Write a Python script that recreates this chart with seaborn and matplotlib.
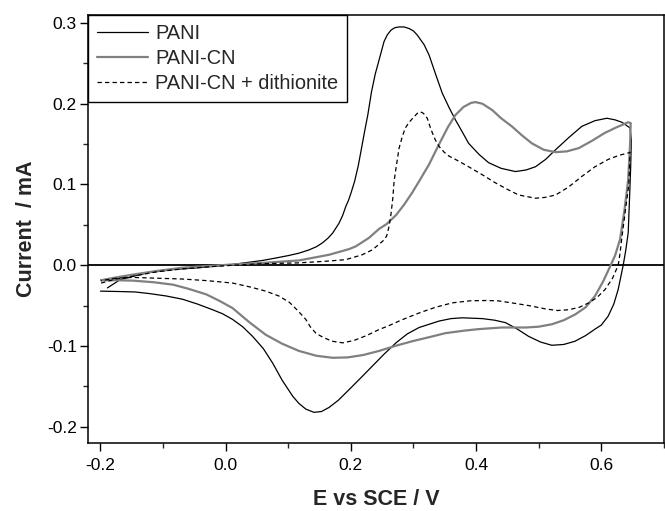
import matplotlib
matplotlib.use("Agg")
import matplotlib.pyplot as plt
from matplotlib.ticker import MultipleLocator, FormatStrFormatter
import seaborn as sns
import pandas as pd

# Cyclic voltammograms: potential (V vs SCE) and current (mA), forward then reverse sweep
pani_E = [-0.189, -0.169, -0.145, -0.122, -0.080, -0.042, 0.000, 0.030, 0.059, 0.080,
          0.100, 0.117, 0.133, 0.145, 0.155, 0.164, 0.171, 0.181, 0.187, 0.192,
          0.196, 0.200, 0.206, 0.212, 0.217, 0.222, 0.227, 0.233, 0.239, 0.245,
          0.253, 0.258, 0.264, 0.270, 0.277, 0.285, 0.293, 0.300, 0.306, 0.317,
          0.325, 0.336, 0.346, 0.357, 0.367, 0.378, 0.388, 0.405, 0.420, 0.440,
          0.463, 0.480, 0.495, 0.511, 0.527, 0.548, 0.569, 0.590, 0.609, 0.622,
          0.633, 0.646,
          0.648, 0.647, 0.645, 0.643, 0.639, 0.635, 0.627, 0.620, 0.611, 0.600,
          0.590, 0.575, 0.558, 0.540, 0.521, 0.503, 0.484, 0.466, 0.447, 0.430,
          0.410, 0.378, 0.360, 0.341, 0.325, 0.309, 0.290, 0.272, 0.253, 0.234,
          0.215, 0.197, 0.180, 0.165, 0.153, 0.141, 0.128, 0.117, 0.107, 0.090,
          0.075, 0.060, 0.043, 0.027, 0.011, -0.005, -0.021, -0.045, -0.069, -0.095,
          -0.122, -0.145, -0.169, -0.200]
pani_I = [-0.028, -0.018, -0.013, -0.009, -0.005, -0.003, 0.000, 0.003, 0.006, 0.009,
          0.012, 0.015, 0.019, 0.023, 0.028, 0.034, 0.040, 0.052, 0.062, 0.073,
          0.080, 0.089, 0.104, 0.124, 0.145, 0.166, 0.186, 0.215, 0.237, 0.254,
          0.277, 0.285, 0.291, 0.294, 0.295, 0.295, 0.293, 0.290, 0.285, 0.273,
          0.260, 0.235, 0.213, 0.195, 0.180, 0.165, 0.151, 0.137, 0.127, 0.120,
          0.116, 0.118, 0.122, 0.131, 0.143, 0.158, 0.172, 0.179, 0.182, 0.180,
          0.177, 0.170,
          0.155, 0.122, 0.080, 0.040, 0.018, 0.000, -0.030, -0.048, -0.063, -0.074,
          -0.079, -0.087, -0.094, -0.098, -0.099, -0.095, -0.088, -0.079, -0.071, -0.068,
          -0.066, -0.065, -0.066, -0.069, -0.073, -0.077, -0.085, -0.096, -0.110, -0.125,
          -0.140, -0.154, -0.167, -0.176, -0.181, -0.182, -0.178, -0.171, -0.162, -0.142,
          -0.121, -0.103, -0.088, -0.076, -0.067, -0.060, -0.055, -0.048, -0.042, -0.038,
          -0.035, -0.033, -0.0325, -0.032]

cn_E = [-0.199, -0.175, -0.148, -0.110, -0.069, -0.030, 0.011, 0.060, 0.117, 0.165,
        0.197, 0.208, 0.229, 0.245, 0.257, 0.272, 0.285, 0.298, 0.309, 0.325,
        0.341, 0.355, 0.367, 0.380, 0.392, 0.399, 0.410, 0.426, 0.440, 0.457,
        0.473, 0.489, 0.508, 0.527, 0.545, 0.564, 0.585, 0.606, 0.625, 0.643,
        0.647,
        0.646, 0.643, 0.637, 0.630, 0.622, 0.615, 0.603, 0.590, 0.575, 0.558,
        0.540, 0.521, 0.500, 0.479, 0.460, 0.441, 0.404, 0.380, 0.351, 0.325,
        0.298, 0.270, 0.245, 0.220, 0.195, 0.171, 0.145, 0.117, 0.090, 0.064,
        0.037, 0.011, -0.010, -0.031, -0.060, -0.084, -0.115, -0.148, -0.175, -0.199]
cn_I = [-0.0185, -0.015, -0.0115, -0.007, -0.003, -0.001, 0.001, 0.003, 0.006, 0.013,
        0.020, 0.0235, 0.034, 0.045, 0.051, 0.062, 0.075, 0.090, 0.104, 0.125,
        0.150, 0.171, 0.186, 0.196, 0.201, 0.202, 0.200, 0.192, 0.182, 0.172,
        0.161, 0.151, 0.143, 0.140, 0.141, 0.145, 0.154, 0.164, 0.171, 0.177,
        0.176,
        0.150, 0.106, 0.068, 0.032, 0.012, 0.000, -0.020, -0.038, -0.052, -0.061,
        -0.068, -0.073, -0.076, -0.077, -0.077, -0.077, -0.079, -0.081, -0.084, -0.089,
        -0.094, -0.100, -0.106, -0.111, -0.114, -0.1145, -0.112, -0.106, -0.097, -0.086,
        -0.070, -0.053, -0.044, -0.036, -0.029, -0.024, -0.021, -0.019, -0.0185, -0.0185]

dith_E = [-0.199, -0.175, -0.148, -0.110, -0.069, -0.030, 0.011, 0.060, 0.117, 0.160,
          0.192, 0.218, 0.234, 0.245, 0.251, 0.257, 0.261, 0.264, 0.267,
          0.269, 0.273, 0.277, 0.282, 0.287, 0.293, 0.300, 0.306, 0.311, 0.316,
          0.322, 0.328, 0.335, 0.341, 0.349, 0.357, 0.372, 0.388, 0.410, 0.431,
          0.450, 0.468, 0.495, 0.510, 0.527, 0.548, 0.569, 0.590, 0.611, 0.628,
          0.643, 0.646,
          0.644, 0.638, 0.633, 0.630, 0.627, 0.618, 0.606, 0.593, 0.580, 0.565,
          0.548, 0.530, 0.511, 0.485, 0.457, 0.435, 0.415, 0.390, 0.362, 0.335,
          0.309, 0.280, 0.260, 0.245, 0.225, 0.205, 0.187, 0.170, 0.155, 0.144,
          0.135, 0.128, 0.115, 0.102, 0.085, 0.064, 0.040, 0.011, -0.030, -0.069,
          -0.110, -0.148, -0.175, -0.199]
dith_I = [-0.022, -0.017, -0.0135, -0.008, -0.0045, -0.002, 0.000, 0.002, 0.003, 0.005,
          0.007, 0.013, 0.019, 0.026, 0.030, 0.036, 0.048, 0.063, 0.083,
          0.104, 0.125, 0.145, 0.159, 0.170, 0.177, 0.183, 0.188, 0.190, 0.188,
          0.182, 0.168, 0.155, 0.147, 0.140, 0.135, 0.129, 0.122, 0.112, 0.102,
          0.094, 0.087, 0.083, 0.084, 0.087, 0.097, 0.110, 0.122, 0.131, 0.136,
          0.139, 0.140,
          0.100, 0.065, 0.035, 0.015, 0.000, -0.016, -0.030, -0.040, -0.0465, -0.052,
          -0.055, -0.056, -0.054, -0.050, -0.0465, -0.044, -0.0436, -0.044, -0.0465, -0.052,
          -0.059, -0.068, -0.075, -0.0795, -0.087, -0.093, -0.096, -0.094, -0.089, -0.084,
          -0.076, -0.067, -0.056, -0.046, -0.038, -0.032, -0.027, -0.022, -0.019, -0.017,
          -0.016, -0.015, -0.016, -0.019]

labels = ["PANI", "PANI-CN", "PANI-CN + dithionite"]

sns.set_style("ticks")
plt.rcParams["font.family"] = ["Liberation Sans", "DejaVu Sans"]

fig = plt.figure(figsize=(6.65, 5.11), dpi=100)
ax = fig.add_axes([0.1323, 0.133, 0.866, 0.838])

series = [
    (pani_E, pani_I, labels[0], dict(color="black", lw=0.9, linestyle="-")),
    (cn_E, cn_I, labels[1], dict(color="#808080", lw=1.6, linestyle="-")),
    (dith_E, dith_I, labels[2], dict(color="black", lw=0.9, linestyle=(0, (3.5, 2.5)))),
]
for E, I, name, style in series:
    df = pd.DataFrame({"E": E, "I": I})
    sns.lineplot(data=df, x="E", y="I", sort=False, estimator=None, ax=ax,
                 label=name, **style)

ax.axhline(0, color="black", lw=1.3, zorder=1)

ax.set_xlim(-0.22, 0.70)
ax.set_ylim(-0.22, 0.31)
ax.xaxis.set_major_locator(MultipleLocator(0.2))
ax.xaxis.set_minor_locator(MultipleLocator(0.1))
ax.yaxis.set_major_locator(MultipleLocator(0.1))
ax.yaxis.set_minor_locator(MultipleLocator(0.05))
ax.xaxis.set_major_formatter(FormatStrFormatter("%.1f"))
ax.yaxis.set_major_formatter(FormatStrFormatter("%.1f"))

for side in ["left", "right", "top", "bottom"]:
    ax.spines[side].set_linewidth(1.1)
    ax.spines[side].set_color("black")
ax.tick_params(axis="both", which="major", direction="out", length=5.5, width=1.0,
               labelsize=12.5, colors="black", top=False, right=False)
ax.tick_params(axis="both", which="minor", direction="out", length=3.5, width=1.0,
               top=False, right=False)
ax.tick_params(axis="x", which="major", pad=5.5)
ax.tick_params(axis="y", which="major", pad=2.5)

ax.set_xlabel("E vs SCE / V", fontsize=15.5, fontweight="bold", labelpad=11)
ax.set_ylabel("Current  / mA", fontsize=15.5, fontweight="bold", labelpad=7)

leg = ax.legend(loc="upper left", fontsize=14.4, frameon=True, fancybox=False,
                borderaxespad=0, borderpad=0.45, labelspacing=0.3,
                handlelength=2.55, handletextpad=0.35)
leg.get_frame().set_edgecolor("black")
leg.get_frame().set_linewidth(1.0)
leg.get_frame().set_alpha(1)

fig.savefig("out.png", dpi=100)
